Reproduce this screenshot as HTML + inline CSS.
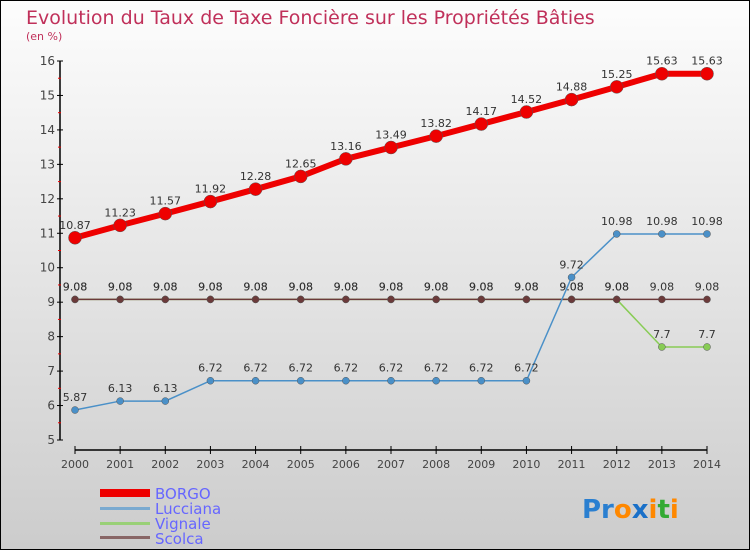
<!DOCTYPE html>
<html><head><meta charset="utf-8"><style>
body{margin:0}
#c{width:750px;height:550px;position:relative;font-family:"DejaVu Sans","Liberation Sans",sans-serif}
</style></head><body>
<div id="c">
<svg id="s" width="750" height="550" xmlns="http://www.w3.org/2000/svg">
<defs><linearGradient id="bg" x1="0" y1="0" x2="0" y2="1"><stop offset="0" stop-color="#fdfdfd"/><stop offset="1" stop-color="#cccccc"/></linearGradient></defs>
<rect x="0.5" y="0.5" width="749" height="549" fill="url(#bg)" stroke="#000"/>
<text x="26" y="24" font-size="19" fill="#c0305a">Evolution du Taux de Taxe Foncière sur les Propriétés Bâties</text>
<text x="26" y="40" font-size="11" fill="#c0305a">(en %)</text>
<g id="axes"></g><g id="series"></g>
<g>
<rect x="100" y="489" width="50" height="8" fill="#ee0000"/>
<text x="155" y="499" font-size="15" fill="#6666ff">BORGO</text>
<rect x="100" y="507" width="50" height="3" fill="#7aaad0"/>
<text x="155" y="514" font-size="15" fill="#6666ff">Lucciana</text>
<rect x="100" y="522" width="50" height="3" fill="#99d077"/>
<text x="155" y="529" font-size="15" fill="#6666ff">Vignale</text>
<rect x="100" y="536" width="50" height="3" fill="#886666"/>
<text x="155" y="544" font-size="15" fill="#6666ff">Scolca</text>
</g>
<text x="582" y="518" font-size="26" font-weight="bold"><tspan fill="#2a7fd0">Pr</tspan><tspan fill="#ff8800">o</tspan><tspan fill="#1a70c8">x</tspan><tspan fill="#ff8800">i</tspan><tspan fill="#33aa33">t</tspan><tspan fill="#ff8800">i</tspan></text>
</svg></div>
<script>
const years=[2000,2001,2002,2003,2004,2005,2006,2007,2008,2009,2010,2011,2012,2013,2014];
const yTicks=[5,6,7,8,9,10,11,12,13,14,15,16];
const borgo=[10.87,11.23,11.57,11.92,12.28,12.65,13.16,13.49,13.82,14.17,14.52,14.88,15.25,15.63,15.63];
const lucciana=[5.87,6.13,6.13,6.72,6.72,6.72,6.72,6.72,6.72,6.72,6.72,9.72,10.98,10.98,10.98];
const vignale=[9.08,9.08,9.08,9.08,9.08,9.08,9.08,9.08,9.08,9.08,9.08,9.08,9.08,7.7,7.7];
const scolca=[9.08,9.08,9.08,9.08,9.08,9.08,9.08,9.08,9.08,9.08,9.08,9.08,9.08,9.08,9.08];
const NS="http://www.w3.org/2000/svg";
const X=i=>75+i*(707-75)/14;
const Y=v=>440-(v-5)*(440-61)/11;
function mk(t,a,p){const e=document.createElementNS(NS,t);for(const k in a)e.setAttribute(k,a[k]);p.appendChild(e);return e;}
const ax=document.getElementById('axes');
let e=mk('line',{x1:60,y1:61,x2:60,y2:440,stroke:'#000','stroke-width':1.5},ax);


e=mk('line',{x1:75,y1:450,x2:707,y2:450,stroke:'#000','stroke-width':1.5},ax);


yTicks.forEach(v=>{mk('line',{x1:57,y1:Y(v),x2:63,y2:Y(v),stroke:'#000'},ax);
 if(v<16)mk('line',{x1:58,y1:Y(v+0.5),x2:61,y2:Y(v+0.5),stroke:'#e00'},ax);
 const t=mk('text',{x:55,y:Y(v)+4,'font-size':12,fill:'#444','text-anchor':'end'},ax);t.textContent=v;
 
 });
years.forEach((y,i)=>{mk('line',{x1:X(i),y1:446,x2:X(i),y2:454,stroke:'#000'},ax);
 const t=mk('text',{x:X(i),y:468,'font-size':11,fill:'#444','text-anchor':'middle'},ax);t.textContent=y;
 
 });
const sg=document.getElementById('series');
function draw(name,vals,col,w,r,lab){
 const g=mk('g',{},sg);
 
 
 const pl=mk('polyline',{points:vals.map((v,i)=>X(i)+','+Y(v)).join(' '),fill:'none',stroke:col,'stroke-width':w},g);
 
 
 vals.forEach((v,i)=>{const c=mk('circle',{cx:X(i),cy:Y(v),r:r,fill:col,stroke:'#555','stroke-width':0.5},g);
  
  
  if(lab){const t=mk('text',{x:X(i),y:Y(v)-9,'font-size':11,fill:'#333','text-anchor':'middle'},g);t.textContent=v;
  
  }});
}
draw('vignale',vignale,'#88cc55',1.5,3.5,true);
draw('scolca',scolca,'#6b3a3a',1.5,3.5,true);
draw('lucciana',lucciana,'#4a90c8',1.5,3.5,true);
draw('borgo',borgo,'#ee0000',6,6.5,true);
</script>
</body></html>
